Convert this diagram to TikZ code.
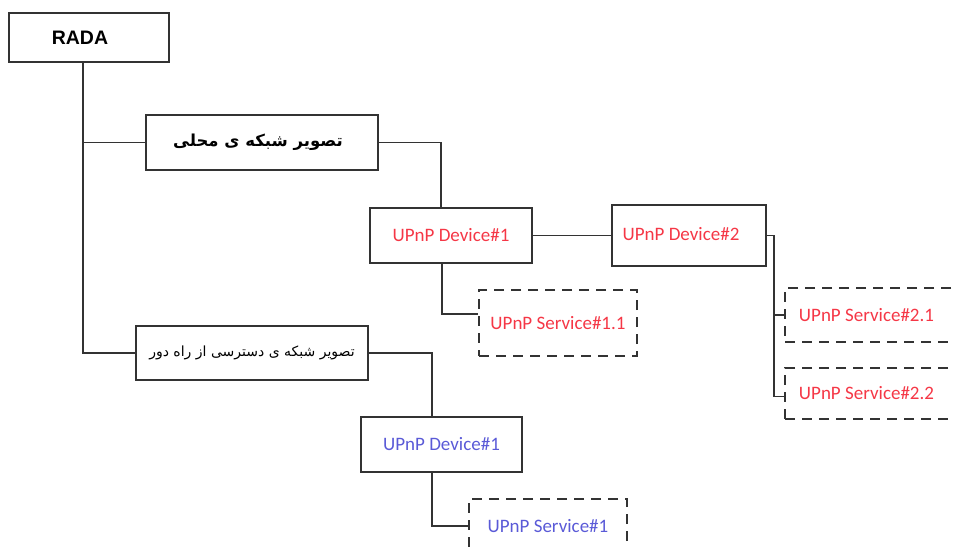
\documentclass[tikz,border=0pt]{standalone}
\usepackage{fontspec}
\setmainfont{Carlito}
\newfontfamily\radafont{Liberation Sans}
\newfontfamily\arabicfont[Script=Arabic]{DejaVu Sans}
\TeXXeTstate=1
\usepackage{tikz}
\usetikzlibrary{positioning}
\definecolor{devred}{RGB}{245,55,70}
\definecolor{devblue}{RGB}{90,90,215}
\tikzset{mybox/.style = {draw=black!80,line width=1.5pt,inner sep=0pt,
		minimum width=#1,font=\fontsize{19}{22}\selectfont},
	mydash/.style = {mybox=#1,dash pattern=on 10pt off 7pt},
	myline/.style = {draw=black!80,line width=1.5pt}}

\begin{document}
\begin{tikzpicture}[x=1pt,y=-1pt]
\useasboundingbox (0,0) rectangle (954,547);
\clip (0,0) rectangle (954,547);
% main entry and the two views
\node[mybox=160pt,minimum height=49pt,font=\radafont\bfseries\fontsize{19.5}{22}\selectfont] (rada) at (89,37.5) {RADA\kern18pt};
\node[mybox=232pt,minimum height=55pt,font=\arabicfont\bfseries\fontsize{16.5}{22}\selectfont] (loc) at (262,142.5) {\kern-8pt\beginR تصویر شبکه ی محلی\endR};
\node[mybox=232pt,minimum height=54pt,font=\arabicfont\fontsize{14}{22}\selectfont] (remote) at (252,353) {\beginR تصویر شبکه ی دسترسی از راه دور\endR};
% local devices
\node[mybox=162pt,minimum height=55pt,text=devred] (dev1r) at (451,235.5) {UPnP Device\#1};
\node[mybox=154pt,minimum height=61pt,text=devred] (dev2) at (689,235.5) {\raisebox{3pt}{UPnP Device\#2\kern16pt}};
\node[mydash=158pt,minimum height=66pt,text=devred] (svc11) at (558,323) {UPnP Service\#1.1};
\node[mydash=175pt,minimum height=54pt,text=devred] (svc21) at (872.5,315) {UPnP Service\#2.1\kern12pt};
\node[mydash=175pt,minimum height=51pt,text=devred] (svc22) at (872.5,393.5) {UPnP Service\#2.2\kern12pt};
% remote devices
\node[mybox=161pt,minimum height=55pt,text=devblue] (dev1b) at (441.5,444.5) {UPnP Device\#1};
\node[mydash=158pt,minimum height=54pt,text=devblue] (svc1) at (548,526) {UPnP Service\#1};

\coordinate (spine) at ([xshift=-6pt]rada.south);
\coordinate (bus) at ([xshift=7pt]dev2.east);
\draw[myline] (spine) |- (remote.west);
\draw[myline] (loc.west) -- (loc.west -| spine);
\draw[myline] (loc.east) -| ([xshift=-10pt]dev1r.north);
\draw[myline] (dev1r.east) -- (dev1r.east -| dev2.west);
\draw[myline] ([xshift=-9pt]dev1r.south) |- ([yshift=9pt]svc11.west);
\draw[myline] (dev2.east) -- (bus) |- ([yshift=-3pt]svc22.west);
\draw[myline] (bus |- svc21.west) -- (svc21.west);
\draw[myline] (remote.east) -| ([xshift=-9.5pt]dev1b.north);
\draw[myline] ([xshift=-9.5pt]dev1b.south) |- (svc1.west);
\end{tikzpicture}
\end{document}
